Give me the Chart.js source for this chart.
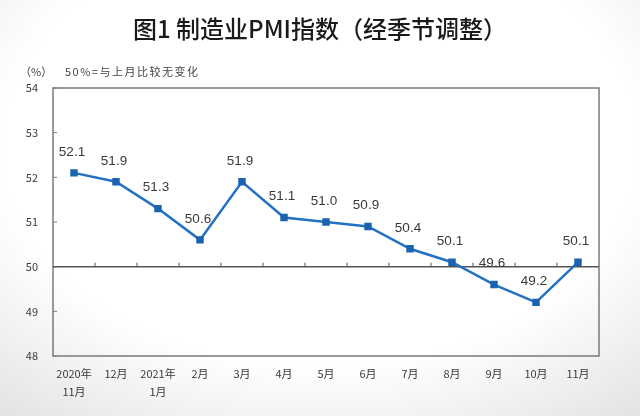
<!DOCTYPE html>
<html><head><meta charset="utf-8">
<script src="https://cdn.jsdelivr.net/npm/chart.js@4/dist/chart.umd.min.js"></script>
<style>
html,body{margin:0;padding:0;}
body{width:640px;height:416px;background:radial-gradient(ellipse 80% 85% at 50% 35%, #ffffff 62%, #e2e2e2 100%);}
#wrap{width:640px;height:416px;position:relative;}
</style></head>
<body><div id="wrap"><canvas id="c" width="640" height="416"></canvas></div>
<script>
const titleText = '图1 制造业PMI指数（经季节调整）';
const unitText = '（%）';
const noteText = '50%=与上月比较无变化';
const categories = [['2020年','11月'],'12月',['2021年','1月'],'2月','3月','4月','5月','6月','7月','8月','9月','10月','11月'];
const pmiValues = [52.1, 51.9, 51.3, 50.6, 51.9, 51.1, 51.0, 50.9, 50.4, 50.1, 49.6, 49.2, 50.1];
const yTicks = [48, 49, 50, 51, 52, 53, 54];
const baseline = 50;

const decor = {
  id: 'decor',
  beforeDatasetsDraw(chart) {
    const {ctx, chartArea: a, scales: {x, y}} = chart;
    ctx.save();
    ctx.strokeStyle = '#7a7a7a';
    ctx.lineWidth = 1.5;
    ctx.strokeRect(a.left, a.top, a.right - a.left, a.bottom - a.top);
    ctx.lineWidth = 1;
    yTicks.forEach(v => {
      const py = y.getPixelForValue(v);
      ctx.beginPath(); ctx.moveTo(a.left, py); ctx.lineTo(a.left + 4, py); ctx.stroke();
    });
    const by = y.getPixelForValue(baseline);
    ctx.strokeStyle = '#555';
    ctx.lineWidth = 1.5;
    ctx.beginPath(); ctx.moveTo(a.left, by); ctx.lineTo(a.right, by); ctx.stroke();
    ctx.lineWidth = 1;
    for (let i = 1; i < categories.length; i++) {
      const px = (x.getPixelForValue(i - 1) + x.getPixelForValue(i)) / 2;
      ctx.beginPath(); ctx.moveTo(px, by); ctx.lineTo(px, by - 4); ctx.stroke();
    }
    ctx.restore();
  },
  afterDatasetsDraw(chart) {
    const {ctx} = chart;
    const meta = chart.getDatasetMeta(0);
    ctx.save();
    ctx.font = '13.5px "Liberation Sans", Arial, sans-serif';
    ctx.fillStyle = '#3a3a3a';
    ctx.textAlign = 'center';
    ctx.textBaseline = 'middle';
    meta.data.forEach((pt, i) => {
      ctx.fillText(pmiValues[i].toFixed(1), pt.x - 2, pt.y - 21);
    });
    ctx.restore();
  },
  afterDraw(chart) {
    const {ctx} = chart;
    ctx.save();
    ctx.fillStyle = '#1a1a1a';
    ctx.textAlign = 'center';
    ctx.textBaseline = 'middle';
    ctx.font = '500 24px "Noto Sans CJK SC", sans-serif';
    ctx.fillText(titleText, 320, 29);
    ctx.fillStyle = '#444';
    ctx.textAlign = 'left';
    ctx.font = '11px "Noto Sans CJK SC", sans-serif';
    ctx.fillText(unitText, 20, 72);
    ctx.letterSpacing = '1.5px';
    ctx.fillText(noteText, 65, 72);
    ctx.restore();
  }
};

new Chart(document.getElementById('c'), {
  type: 'line',
  data: {
    labels: categories,
    datasets: [{
      data: pmiValues,
      borderColor: '#2271c3',
      borderWidth: 2.5,
      pointStyle: 'rect',
      pointRadius: 3.5,
      pointBackgroundColor: '#1b62b0',
      pointBorderColor: '#1b62b0',
      tension: 0
    }]
  },
  options: {
    responsive: false,
    animation: false,
    layout: {padding: {top: 88, right: 41, left: 0, bottom: 0}},
    plugins: {legend: {display: false}, tooltip: {enabled: false}},
    scales: {
      x: {
        offset: true,
        grid: {display: false, drawTicks: false},
        border: {display: false},
        ticks: {
          maxRotation: 0, autoSkip: false, padding: 9,
          color: '#3a3a3a',
          font: {family: '"Noto Sans CJK SC", sans-serif', size: 11, lineHeight: 1.6}
        },
        afterFit(s) { s.height = 60; }
      },
      y: {
        min: 48, max: 54,
        grid: {display: false, drawTicks: false},
        border: {display: false},
        afterBuildTicks(s) { s.ticks = yTicks.map(v => ({value: v})); },
        ticks: {
          padding: 15,
          color: '#3a3a3a',
          font: {family: '"Noto Sans CJK SC", sans-serif', size: 11}
        },
        afterFit(s) { s.width = 53; }
      }
    }
  },
  plugins: [decor]
});
</script>
</body></html>
